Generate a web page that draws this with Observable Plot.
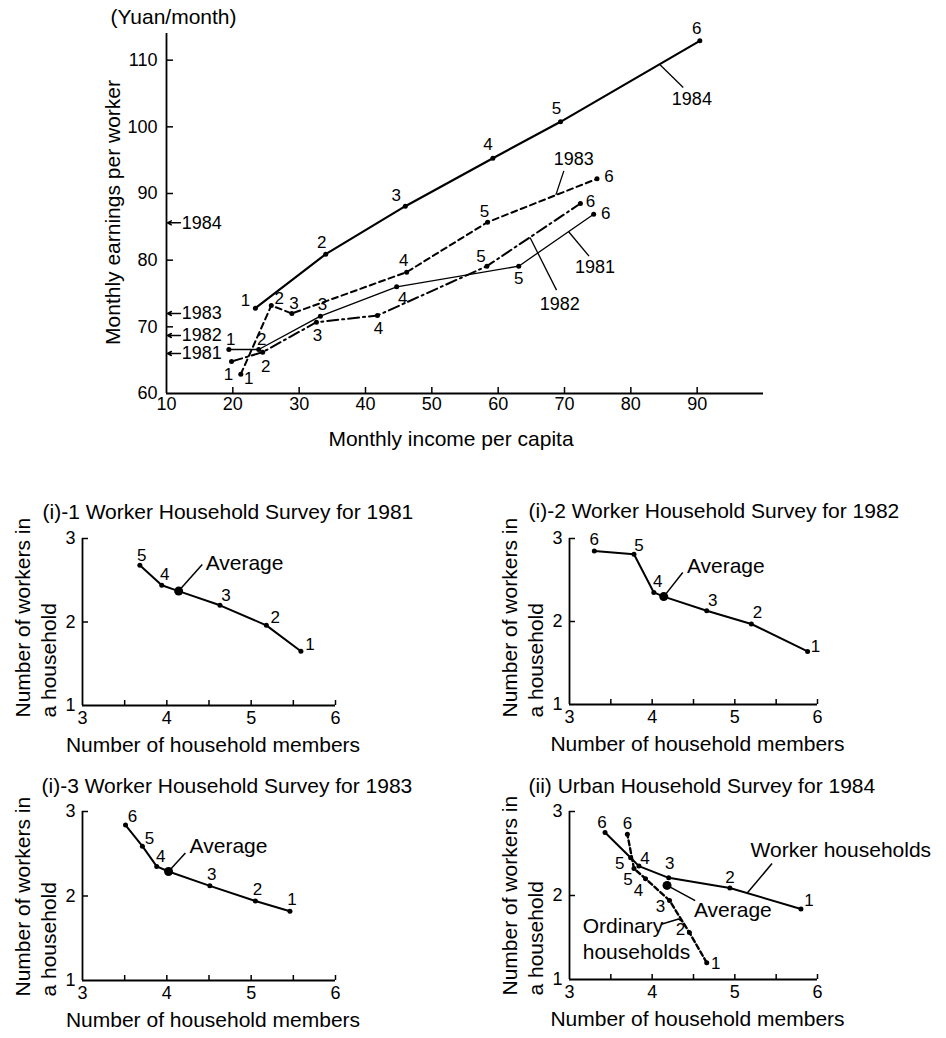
<!DOCTYPE html>
<html><head><meta charset="utf-8">
<script src="https://cdn.jsdelivr.net/npm/d3@7"></script>
<script src="https://cdn.jsdelivr.net/npm/@observablehq/plot@0.6"></script>
<style>
body{margin:0;background:#fff;}
#wrap{position:relative;width:946px;height:1038px;background:#fff;}
.panel{position:absolute;}
</style></head><body><div id="wrap"></div>
<script>
// ================= DATA =================
// Top chart: monthly earnings per worker vs monthly income per capita, income groups 1..6
const incomeTicks = [10, 20, 30, 40, 50, 60, 70, 80, 90];
const earningsTicks = [60, 70, 80, 90, 100, 110];
const income1984 = [23.4, 34.0, 46.0, 59.2, 69.4, 90.4];
const earnings1984 = [72.8, 80.9, 88.1, 95.3, 100.75, 112.9];
const income1983 = [21.2, 25.8, 28.9, 46.2, 58.4, 74.9];
const earnings1983 = [62.9, 73.2, 72.0, 78.2, 85.7, 92.2];
const income1982 = [19.8, 24.5, 32.6, 41.8, 58.3, 72.4];
const earnings1982 = [64.8, 66.2, 70.7, 71.7, 79.1, 88.5];
const income1981 = [19.4, 23.9, 33.2, 44.7, 63.1, 74.4];
const earnings1981 = [66.6, 66.6, 71.6, 76.0, 79.1, 86.9];
// Average earnings marked on the y axis
const avgYears = ["1984", "1983", "1982", "1981"];
const avgEarnings = [85.6, 72.0, 68.7, 66.0];

// Small panels: number of household members vs number of workers in a household
const memberTicks = [3, 4, 5, 6];
const workerTicks = [1, 2, 3];
const members1981 = [5.59, 5.18, 4.63, 3.94, 3.68];
const workers1981 = [1.65, 1.96, 2.20, 2.44, 2.68];
const average1981 = [4.14, 2.37];
const members1982 = [5.88, 5.20, 4.66, 4.02, 3.78, 3.30];
const workers1982 = [1.64, 1.97, 2.13, 2.35, 2.81, 2.85];
const average1982 = [4.14, 2.30];
const members1983 = [5.46, 5.05, 4.51, 3.88, 3.71, 3.51];
const workers1983 = [1.82, 1.94, 2.12, 2.35, 2.59, 2.84];
const average1983 = [4.02, 2.29];
const membersWorker1984 = [5.80, 4.94, 4.20, 3.84, 3.74, 3.43];
const workersWorker1984 = [1.84, 2.09, 2.21, 2.35, 2.45, 2.75];
const membersOrdinary1984 = [4.66, 4.45, 4.21, 3.92, 3.78, 3.70];
const workersOrdinary1984 = [1.20, 1.56, 1.94, 2.20, 2.32, 2.73];
const average1984 = [4.18, 2.12];

// ================= LAYOUT / STYLE (not data) =================
const FONT = '"Liberation Sans", Arial, Helvetica, sans-serif';
const off1984 = [[-10,-8],[-4,-12],[-9,-11],[-5,-14],[-4,-13],[-3,-12]];
const off1983 = [[8,4],[8,-7],[2,-10],[-3,-12],[-3,-11],[12,-2]];
const off1982 = [[-3,13],[3,14],[1,13],[1,13],[-6,-10],[10,-2]];
const off1981 = [[2,-10],[3,-10],[2,-12],[6,12],[0,12],[12,-1]];
// callouts in top chart
const callouts = [
  {t: "1984", x1: 84.4, y1: 109.3, x2: 87.9, y2: 105.9, lx: 89.2, ly: 104.2},
  {t: "1983", x1: 68.7, y1: 89.8, x2: 69.9, y2: 93.4, lx: 71.4, ly: 95.2},
  {t: "1982", x1: 64.8, y1: 83.4, x2: 68.8, y2: 75.5, lx: 69.3, ly: 73.4},
  {t: "1981", x1: 70.6, y1: 84.3, x2: 73.7, y2: 80.6, lx: 74.6, ly: 78.95}
];

const rows = (xs, ys) => xs.map((x, i) => ({n: i + 1, x, y: ys[i]}));
function numLabels(data, offs, fontSize = 17) {
  return data.map((d, i) => Plot.text([d], {
    x: "x", y: "y", text: (e) => String(e.n), dx: offs[i][0], dy: offs[i][1],
    fontSize, textAnchor: "middle", lineAnchor: "middle"
  }));
}
const styleBase = {fontFamily: FONT, fontSize: "18px", color: "#000", background: "transparent", overflow: "visible"};
const intFmt = (d) => String(d);

function place(node, left, top) {
  const d = document.createElement("div");
  d.className = "panel";
  d.style.left = left + "px";
  d.style.top = top + "px";
  d.appendChild(node);
  document.getElementById("wrap").appendChild(d);
}

// ================= TOP CHART =================
const r84 = rows(income1984, earnings1984);
const r83 = rows(income1983, earnings1983);
const r82 = rows(income1982, earnings1982);
const r81 = rows(income1981, earnings1981);
const avgRows = avgYears.map((y, i) => ({year: y, v: avgEarnings[i]}));

const TW = 946, TH = 460, TL = 166, TR = 183, TT = 33, TB = 67;
const tfw = TW - TL - TR, tfh = TH - TT - TB;

const topPlot = Plot.plot({
  width: TW, height: TH, marginLeft: TL, marginRight: TR, marginTop: TT, marginBottom: TB,
  style: styleBase,
  x: {domain: [10, 100], label: null},
  y: {domain: [60, 114], label: null},
  marks: [
    Plot.ruleX([10], {strokeWidth: 1.8}),
    Plot.ruleY([60], {strokeWidth: 1.8}),
    Plot.tickY(earningsTicks.slice(1), {y: (d) => d, insetRight: tfw - 7, strokeWidth: 1.5}),
    Plot.tickX(incomeTicks.slice(1), {x: (d) => d, insetTop: tfh - 6, strokeWidth: 1.5}),
    Plot.axisX({ticks: incomeTicks, tickFormat: intFmt, tickSize: 0, tickPadding: 4, fontSize: 18, label: null}),
    Plot.axisY({ticks: earningsTicks, tickFormat: intFmt, tickSize: 0, tickPadding: 9, fontSize: 18, label: null}),
    Plot.text(["(Yuan/month)"], {frameAnchor: "top-left", dx: 7, dy: -16, fontSize: 21, textAnchor: "middle", lineAnchor: "middle"}),
    Plot.text(["Monthly earnings per worker"], {frameAnchor: "left", dx: -53, dy: -1, rotate: -90, fontSize: 21, textAnchor: "middle", lineAnchor: "middle"}),
    Plot.text(["Monthly income per capita"], {frameAnchor: "bottom", dx: -14, dy: 46, fontSize: 21, textAnchor: "middle", lineAnchor: "middle"}),
    // averages on the y axis
    Plot.arrow(avgRows, {x1: 12.1, x2: 10.15, y1: "v", y2: "v", headLength: 7, headAngle: 55, strokeWidth: 1.5}),
    Plot.text(avgRows, {x: 12.3, y: "v", text: "year", textAnchor: "start", lineAnchor: "middle", fontSize: 18}),
    // series
    Plot.line(r84, {x: "x", y: "y", strokeWidth: 2.2}),
    Plot.line(r83, {x: "x", y: "y", strokeWidth: 2, strokeDasharray: "6,4"}),
    Plot.line(r82, {x: "x", y: "y", strokeWidth: 2, strokeDasharray: "11,4,2,4"}),
    Plot.line(r81, {x: "x", y: "y", strokeWidth: 1.3}),
    Plot.dot([...r84, ...r83, ...r82, ...r81], {x: "x", y: "y", r: 2.5, fill: "#000", stroke: null}),
    ...numLabels(r84, off1984),
    ...numLabels(r83, off1983),
    ...numLabels(r82, off1982),
    ...numLabels(r81, off1981),
    // callouts
    Plot.link(callouts, {x1: "x1", y1: "y1", x2: "x2", y2: "y2", strokeWidth: 1.3}),
    Plot.text(callouts, {x: "lx", y: "ly", text: "t", fontSize: 18, textAnchor: "middle", lineAnchor: "middle"})
  ]
});
place(topPlot, 0, 0);

// ================= SMALL PANELS =================
function smallPanel(cfg) {
  const {width, height, ml, mr, mt, mb, title, titleDx, titleDy, ylabDy, marks} = cfg;
  const fw = width - ml - mr, fh = height - mt - mb;
  return Plot.plot({
    width, height, marginLeft: ml, marginRight: mr, marginTop: mt, marginBottom: mb,
    style: styleBase,
    x: {domain: [3, 6], label: null},
    y: {domain: [1, 3], label: null},
    marks: [
      Plot.ruleX([3], {strokeWidth: 1.8}),
      Plot.ruleY([1], {strokeWidth: 1.8}),
      Plot.tickY([2, 3], {y: (d) => d, insetRight: fw - 6, strokeWidth: 1.5}),
      Plot.tickX([3.5, 4, 4.5, 5, 5.5, 6], {x: (d) => d, insetTop: fh - 5, strokeWidth: 1.5}),
      Plot.axisX({ticks: memberTicks, tickFormat: intFmt, tickSize: 0, tickPadding: 6, fontSize: 18, label: null}),
      Plot.axisY({ticks: workerTicks, tickFormat: intFmt, tickSize: 0, tickPadding: 7, fontSize: 18, label: null}),
      Plot.text([title], {frameAnchor: "top-left", dx: titleDx, dy: titleDy, textAnchor: "start", lineAnchor: "bottom", fontSize: 21}),
      Plot.text(["Number of workers in\na household"], {frameAnchor: "bottom-left", dx: -70, dy: ylabDy, rotate: -90, textAnchor: "start", lineAnchor: "top", lineHeight: 1.2, fontSize: 21}),
      Plot.text(["Number of household members"], {frameAnchor: "bottom", dx: 4, dy: 40, textAnchor: "middle", lineAnchor: "middle", fontSize: 21}),
      ...marks
    ]
  });
}

function surveyMarks(xs, ys, avg, offs, lead) {
  const pts = rows(xs, ys);
  const a = {x: avg[0], y: avg[1]};
  const path = [...pts, a].sort((p, q) => p.x - q.x);
  return [
    Plot.line(path, {x: "x", y: "y", strokeWidth: 2}),
    Plot.dot(pts, {x: "x", y: "y", r: 2.5, fill: "#000", stroke: null}),
    Plot.dot([a], {x: "x", y: "y", r: 4.5, fill: "#000", stroke: null}),
    ...numLabels(pts, offs),
    Plot.link([lead], {x1: () => a.x, y1: () => a.y, x2: "x2", y2: "y2", strokeWidth: 1.5}),
    Plot.text([lead], {x: "tx", y: "ty", text: () => "Average", textAnchor: "start", lineAnchor: "middle", fontSize: 21})
  ];
}

const offS81 = [[9,-7],[9,-8],[6,-10],[3,-11],[2,-10]];
const offS82 = [[8,-5],[6,-11],[6,-10],[4,-11],[5,-9],[0,-11]];
const offS83 = [[2,-12],[2,-12],[2,-11],[4,-10],[7,-8],[7,-8]];
const offW84 = [[8,-8],[0,-10],[1,-14],[6,-8],[-11,6],[-3,-10]];
const offO84 = [[9,1],[-9,-3],[-9,6],[-7,12],[-6,11],[0,-11]];

place(smallPanel({
  width: 470, height: 275, ml: 82, mr: 135, mt: 48, mb: 60,
  title: "(i)-1 Worker Household Survey for 1981", titleDx: -40, titleDy: -20, ylabDy: 12,
  marks: surveyMarks(members1981, workers1981, average1981, offS81, {x2: 4.42, y2: 2.69, tx: 4.46, ty: 2.70})
}), 0, 490);

place(smallPanel({
  width: 476, height: 275, ml: 99, mr: 129, mt: 48, mb: 61,
  title: "(i)-2 Worker Household Survey for 1982", titleDx: -41, titleDy: -21, ylabDy: 13,
  marks: surveyMarks(members1982, workers1982, average1982, offS82, {x2: 4.37, y2: 2.59, tx: 4.42, ty: 2.66})
}), 470, 490);

place(smallPanel({
  width: 470, height: 278, ml: 82, mr: 135, mt: 51, mb: 58,
  title: "(i)-3 Worker Household Survey for 1983", titleDx: -41, titleDy: -19, ylabDy: 16,
  marks: surveyMarks(members1983, workers1983, average1983, offS83, {x2: 4.22, y2: 2.51, tx: 4.27, ty: 2.59})
}), 0, 760);

// (ii) Urban Household Survey for 1984
const rW = rows(membersWorker1984, workersWorker1984);
const rO = rows(membersOrdinary1984, workersOrdinary1984);
const avg84 = {x: average1984[0], y: average1984[1]};
const ordinaryText = ["Ordinary", "households"];
const ordinaryTextY = [1.63, 1.32];
const ordinaryLeader = [{x: 4.12, y: 1.66}, {x: 4.32, y: 1.72}, {x: 4.365, y: 1.69}];
place(smallPanel({
  width: 476, height: 278, ml: 99, mr: 129, mt: 51, mb: 59,
  title: "(ii) Urban Household Survey for 1984", titleDx: -41, titleDy: -19, ylabDy: 16,
  marks: [
    Plot.line(rW, {x: "x", y: "y", strokeWidth: 2}),
    Plot.line(rO, {x: "x", y: "y", strokeWidth: 2.4, strokeDasharray: "5,3"}),
    Plot.dot([...rW, ...rO], {x: "x", y: "y", r: 2.5, fill: "#000", stroke: null}),
    Plot.dot([avg84], {x: "x", y: "y", r: 4.5, fill: "#000", stroke: null}),
    ...numLabels(rW, offW84),
    ...numLabels(rO, offO84),
    Plot.link([avg84], {x1: "x", y1: "y", x2: () => 4.52, y2: () => 1.94, strokeWidth: 1.5}),
    Plot.text(["Average"], {x: () => 4.505, y: () => 1.82, textAnchor: "start", lineAnchor: "middle", fontSize: 21}),
    Plot.link([{x1: 5.15, y1: 2.03, x2: 5.45, y2: 2.38}], {x1: "x1", y1: "y1", x2: "x2", y2: "y2", strokeWidth: 1.5}),
    Plot.text(["Worker households"], {x: () => 5.19, y: () => 2.54, textAnchor: "start", lineAnchor: "middle", fontSize: 21}),
    Plot.line(ordinaryLeader, {x: "x", y: "y", strokeWidth: 1.5}),
    Plot.text(ordinaryText, {x: () => 3.16, y: (d, i) => ordinaryTextY[i], textAnchor: "start", lineAnchor: "middle", fontSize: 21})
  ]
}), 470, 760);
</script>
</body></html>
